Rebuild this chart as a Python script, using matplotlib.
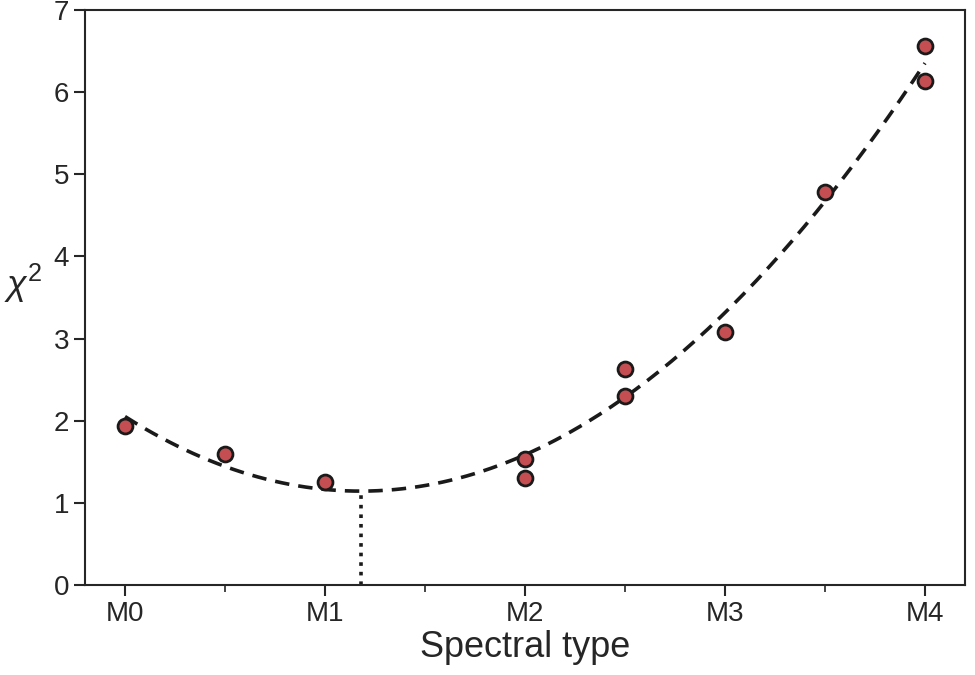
"""Chi-square versus spectral type with a quadratic fit."""

import matplotlib.pyplot as plt
import numpy as np
import seaborn as sns

spectral_types = [0.0, 0.5, 1.0, 2.0, 2.0, 2.5, 2.5, 3.0, 3.5, 4.0, 4.0]
chi_square = [1.93, 1.60, 1.25, 1.53, 1.30, 2.63, 2.30, 3.08, 4.78, 6.56, 6.13]
tick_positions = [0, 1, 2, 3, 4]
tick_labels = ["M0", "M1", "M2", "M3", "M4"]

sns.set_theme(style="ticks")
plt.rcParams["font.family"] = ["Liberation Sans", "DejaVu Sans"]
plt.rcParams["mathtext.fontset"] = "custom"
plt.rcParams["mathtext.rm"] = "Liberation Sans"
plt.rcParams["mathtext.it"] = "Liberation Sans:italic"

figure = plt.figure(figsize=(9.75, 6.75), dpi=100)
axes = figure.add_axes([0.0872, 0.1333, 0.9025, 0.852])

coefficients = np.polyfit(spectral_types, chi_square, 2)
fit_x = np.linspace(min(spectral_types), max(spectral_types), 200)
fit_y = np.polyval(coefficients, fit_x)
best_x = -coefficients[1] / (2 * coefficients[0])
best_y = np.polyval(coefficients, best_x)

axes.plot(fit_x, fit_y, color="#1a1a1a", linestyle=(0, (4, 2.5)), linewidth=2.6,
          zorder=2)
axes.plot([best_x, best_x], [0, best_y], color="#1a1a1a", linestyle=":",
          linewidth=2.6, zorder=2)
axes.scatter(spectral_types, chi_square, s=115, color="#c44e52",
             edgecolor="#1a1a1a", linewidth=2, zorder=3)

axes.set_xlim(-0.2, 4.2)
axes.set_ylim(0, 7)
axes.set_xticks(tick_positions)
axes.set_xticklabels(tick_labels)
axes.set_xticks([0.5, 1.5, 2.5, 3.5], minor=True)
axes.set_yticks(range(8))
axes.tick_params(which="major", length=8, width=1.5, labelsize=20,
                 colors="#262626")
axes.tick_params(which="minor", length=5, width=1.2, colors="#262626")
for spine in axes.spines.values():
    spine.set_linewidth(1.5)
    spine.set_color("#262626")

axes.set_xlabel("Spectral type", fontsize=26, color="#262626", labelpad=2)
axes.set_ylabel(r"$\chi^2$", fontsize=26, color="#262626", rotation=0,
                va="center", ha="center")
axes.yaxis.set_label_coords(-0.07, 0.525)

figure.savefig("out.png", dpi=100)
